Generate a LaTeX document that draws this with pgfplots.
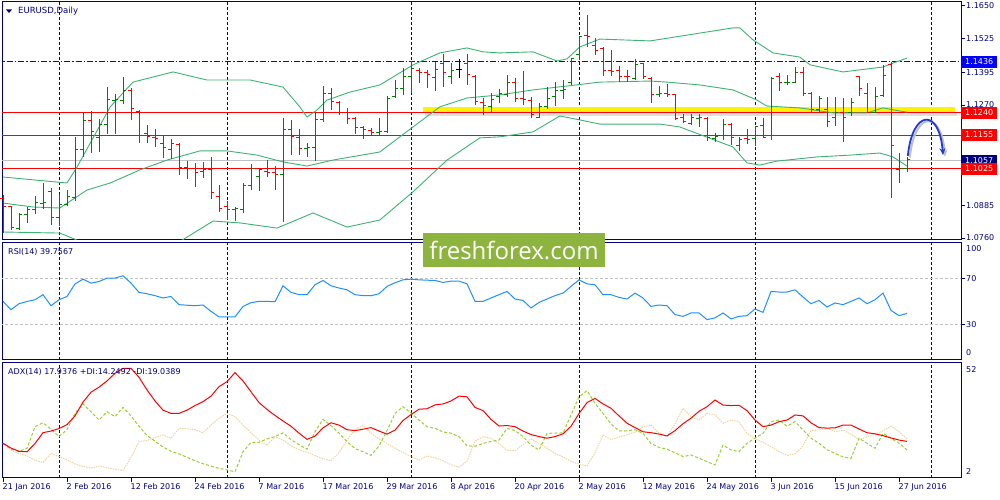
\documentclass[border=0pt]{standalone}
\usepackage{fontspec}
\setmainfont{DejaVu Sans}
\newfontfamily\wmfont{Open Sans}
\usepackage{pgfplots}
\usepackage{pgfplotstable}
\pgfplotsset{compat=1.18}
\usetikzlibrary{arrows.meta}

\definecolor{mtnavy}{RGB}{0,0,128}
\definecolor{barup}{RGB}{0,128,0}
\definecolor{bardn}{RGB}{255,0,0}
\definecolor{bband}{RGB}{60,179,113}
\definecolor{rsiblue}{RGB}{30,144,255}
\definecolor{diplus}{RGB}{154,205,50}
\definecolor{diminus}{RGB}{240,212,160}
\definecolor{wmgreen}{RGB}{141,180,62}
\definecolor{arrowblue}{RGB}{30,60,210}
\definecolor{lvlgray}{RGB}{192,192,192}

\newcommand\lbl{\fontsize{8bp}{9bp}\selectfont}

% open tick to the left, close tick to the right
\pgfdeclareplotmark{otick}{\pgfpathmoveto{\pgfpoint{-3bp}{0pt}}\pgfpathlineto{\pgfpoint{0pt}{0pt}}\pgfusepathqstroke}
\pgfdeclareplotmark{ctick}{\pgfpathmoveto{\pgfpoint{0pt}{0pt}}\pgfpathlineto{\pgfpoint{3bp}{0pt}}\pgfusepathqstroke}

\pgfplotsset{
  mtpanel/.style={
    scale only axis, anchor=south west, width=959bp,
    xmin=-0.125, xmax=119.75,
    axis line style={mtnavy, line width=1bp},
    xtick=\empty,
    extra x ticks={7,28,51,72,94,116}, extra x tick labels={},
    extra x tick style={grid=major, major tick length=0pt},
    major grid style={mtnavy, line width=1bp, dash pattern=on 3bp off 2bp},
    ytick pos=right, yticklabel pos=right, tick align=outside, major tick length=4bp,
    tick style={mtnavy, line width=1bp},
    yticklabel style={font=\lbl, text=mtnavy, inner sep=1bp},
    xticklabel style={font=\lbl, text=mtnavy, inner sep=1bp},
  },
  hline/.style={line width=1bp, forget plot},
  bar/.style={only marks, mark=otick, color=#1,
    mark options={solid, line width=1bp, color=#1},
    error bars/y dir=both, error bars/y explicit, error bars/error mark=none,
    error bars/error bar style={line width=1bp, color=#1}},
  cls/.style={only marks, mark=ctick, color=#1, mark options={solid, line width=1bp, color=#1}},
}

% daily bars: index, open, high, low, close
\pgfplotstableread{
i o h l c
0 1.0913 1.0925 1.0779 1.0879
1 1.0879 1.0883 1.0791 1.0802
2 1.0795 1.0856 1.0791 1.0852
3 1.0852 1.0879 1.0818 1.0871
4 1.0871 1.0921 1.0852 1.0898
5 1.0894 1.0971 1.0871 1.0898
6 1.0937 1.0952 1.0810 1.0837
7 1.0837 1.0929 1.0806 1.0887
8 1.0887 1.0944 1.0883 1.0921
9 1.0917 1.1147 1.0902 1.1101
10 1.1101 1.1243 1.1071 1.1209
11 1.1209 1.1247 1.1086 1.1170
12 1.1144 1.1217 1.1090 1.1194
13 1.1194 1.1339 1.1159 1.1293
14 1.1289 1.1312 1.1159 1.1293
15 1.1289 1.1378 1.1274 1.1324
16 1.1324 1.1335 1.1213 1.1255
17 1.1247 1.1251 1.1124 1.1240
18 1.1159 1.1194 1.1124 1.1151
19 1.1144 1.1178 1.1109 1.1140
20 1.1124 1.1151 1.1067 1.1109
21 1.1098 1.1140 1.1063 1.1124
22 1.1117 1.1124 1.1002 1.1032
23 1.1032 1.1055 1.0986 1.1025
24 1.1025 1.1048 1.0956 1.1013
25 1.1017 1.1052 1.0990 1.1021
26 1.1021 1.1071 1.0910 1.0933
27 1.0921 1.0963 1.0860 1.0875
28 1.0879 1.0902 1.0829 1.0871
29 1.0871 1.0879 1.0825 1.0875
30 1.0871 1.0971 1.0856 1.0960
31 1.0960 1.1044 1.0944 1.1025
32 1.0994 1.1029 1.0940 1.1021
33 1.1017 1.1059 1.0994 1.1013
34 1.1013 1.1036 1.0944 1.1002
35 1.1002 1.1220 1.0821 1.1178
36 1.1178 1.1213 1.1078 1.1151
37 1.1147 1.1178 1.1078 1.1105
38 1.1105 1.1124 1.1071 1.1109
39 1.1109 1.1243 1.1055 1.1213
40 1.1213 1.1343 1.1205 1.1316
41 1.1316 1.1335 1.1251 1.1282
42 1.1278 1.1286 1.1232 1.1240
43 1.1240 1.1259 1.1197 1.1217
44 1.1217 1.1224 1.1159 1.1182
45 1.1182 1.1190 1.1140 1.1178
46 1.1174 1.1182 1.1155 1.1163
47 1.1163 1.1220 1.1151 1.1170
48 1.1170 1.1305 1.1163 1.1297
49 1.1301 1.1366 1.1297 1.1335
50 1.1335 1.1412 1.1309 1.1378
51 1.1378 1.1439 1.1316 1.1412
52 1.1401 1.1412 1.1355 1.1393
53 1.1393 1.1404 1.1335 1.1389
54 1.1374 1.1435 1.1324 1.1408
55 1.1431 1.1466 1.1339 1.1393
56 1.1378 1.1431 1.1351 1.1404
57 1.1408 1.1447 1.1374 1.1408
58 1.1431 1.1466 1.1347 1.1389
59 1.1381 1.1385 1.1270 1.1282
60 1.1278 1.1297 1.1232 1.1270
61 1.1266 1.1316 1.1243 1.1293
62 1.1301 1.1332 1.1278 1.1316
63 1.1312 1.1385 1.1301 1.1358
64 1.1358 1.1374 1.1282 1.1297
65 1.1297 1.1401 1.1270 1.1293
66 1.1289 1.1301 1.1220 1.1232
67 1.1224 1.1278 1.1220 1.1266
68 1.1266 1.1339 1.1255 1.1297
69 1.1301 1.1358 1.1266 1.1324
70 1.1324 1.1366 1.1293 1.1328
71 1.1355 1.1450 1.1347 1.1447
72 1.1462 1.1535 1.1443 1.1531
73 1.1535 1.1615 1.1493 1.1531
74 1.1497 1.1527 1.1462 1.1481
75 1.1485 1.1493 1.1381 1.1401
76 1.1401 1.1481 1.1381 1.1398
77 1.1401 1.1420 1.1358 1.1381
78 1.1381 1.1404 1.1358 1.1378
79 1.1370 1.1447 1.1366 1.1424
80 1.1428 1.1431 1.1370 1.1378
81 1.1370 1.1378 1.1278 1.1309
82 1.1309 1.1343 1.1301 1.1316
83 1.1316 1.1351 1.1301 1.1312
84 1.1309 1.1312 1.1213 1.1220
85 1.1224 1.1236 1.1201 1.1205
86 1.1201 1.1236 1.1194 1.1224
87 1.1220 1.1236 1.1186 1.1224
88 1.1220 1.1224 1.1132 1.1144
89 1.1140 1.1163 1.1128 1.1151
90 1.1155 1.1217 1.1136 1.1194
91 1.1194 1.1201 1.1117 1.1147
92 1.1113 1.1147 1.1094 1.1136
93 1.1140 1.1178 1.1121 1.1136
94 1.1140 1.1190 1.1113 1.1186
95 1.1190 1.1220 1.1144 1.1147
96 1.1155 1.1378 1.1136 1.1370
97 1.1378 1.1393 1.1324 1.1355
98 1.1355 1.1385 1.1347 1.1358
99 1.1358 1.1416 1.1355 1.1393
100 1.1393 1.1416 1.1305 1.1316
101 1.1316 1.1320 1.1243 1.1251
102 1.1251 1.1305 1.1240 1.1297
103 1.1251 1.1301 1.1186 1.1205
104 1.1224 1.1301 1.1190 1.1243
105 1.1243 1.1297 1.1128 1.1224
106 1.1240 1.1297 1.1228 1.1278
107 1.1378 1.1381 1.1305 1.1335
108 1.1316 1.1355 1.1240 1.1243
109 1.1243 1.1339 1.1240 1.1301
110 1.1305 1.1424 1.1301 1.1385
111 1.1424 1.1436 1.0913 1.1113
112 1.1021 1.1086 1.0971 1.1025
113 1.1025 1.1071 1.1013 1.1060
}\bars

% Bollinger bands (20, 2)
\pgfplotstableread{
i p
0 1.0994
8 1.0971
9.25 1.1032
13.4 1.1263
16.25 1.1358
21.25 1.1397
25.5 1.1366
30.9 1.1366
35 1.1339
37.1 1.1263
38 1.1224
39.25 1.1251
40.5 1.1289
43.4 1.1320
47.1 1.1347
51.25 1.1424
54.6 1.1470
58 1.1489
60 1.1474
62.1 1.1470
66.25 1.1474
69.25 1.1439
70.5 1.1447
72.1 1.1493
74.6 1.1523
80.9 1.1516
87.1 1.1546
91.25 1.1566
92.1 1.1566
93.75 1.1520
96.25 1.1470
99.6 1.1454
100.9 1.1424
105 1.1397
110 1.1416
111.25 1.1431
113 1.1450
}\bbup
\pgfplotstableread{
i p
0 1.0894
3.75 1.0879
7.1 1.0875
10.5 1.0944
13.4 1.0971
17.1 1.1021
20.5 1.1059
24.6 1.1094
28 1.1094
31.75 1.1078
35 1.1052
38 1.1036
41.25 1.1059
47.1 1.1090
51.25 1.1186
54.6 1.1263
58 1.1297
62.1 1.1309
66.25 1.1328
70.5 1.1343
74.6 1.1358
80.9 1.1362
83 1.1358
87.1 1.1347
91.25 1.1328
94.25 1.1289
95.5 1.1266
99.6 1.1259
103.75 1.1240
108 1.1240
110 1.1259
112.1 1.1247
113 1.1243
}\bbmid
\pgfplotstableread{
i p
0 1.0783
7.1 1.0779
9.25 1.0752
12.1 1.0695
17.1 1.0683
22.4 1.0752
26.25 1.0825
29.6 1.0818
34.25 1.0798
38.75 1.0856
43 1.0802
47.1 1.0829
51.25 1.0937
55.5 1.1059
59.6 1.1144
62.1 1.1148
66.25 1.1167
69.6 1.1228
72.1 1.1213
74.6 1.1197
82.1 1.1197
84.6 1.1186
91.25 1.1109
93 1.1048
94.6 1.1040
96.75 1.1055
101.75 1.1071
105.9 1.1078
109.6 1.1086
111.25 1.1071
113 1.1036
}\bblow

% RSI(14), ADX(14), +DI, -DI
\pgfplotstableread{
i rsi adx dip dim
0 50.1 17.1 17.0 17.1
1 43.0 15.0 14.5 14.2
2 48.1 13.6 13.6 12.6
3 50.0 13.4 14.9 11.6
4 51.5 17.0 24.3 9.7
5 55.8 21.7 26.0 8.7
6 46.4 22.4 23.2 12.7
7 51.5 23.5 20.0 11.3
8 54.3 25.2 23.0 10.0
9 65.0 29.0 30.1 8.1
10 69.1 35.0 34.2 7.0
11 65.7 39.3 30.8 6.3
12 67.1 41.5 27.2 7.2
13 70.0 44.2 30.8 6.5
14 70.0 47.5 28.7 5.8
15 72.0 49.7 32.7 5.2
16 65.7 49.7 29.0 11.0
17 57.8 45.8 24.5 17.8
18 56.6 40.3 20.5 18.3
19 55.0 35.5 18.0 19.6
20 53.0 31.5 15.5 20.7
21 54.3 30.1 13.6 19.3
22 47.3 30.1 12.5 23.6
23 46.8 31.5 11.0 23.4
24 46.4 33.5 9.5 23.0
25 47.0 35.2 8.2 21.7
26 41.6 37.6 7.2 25.0
27 36.8 41.7 6.2 28.0
28 36.8 43.9 5.5 30.1
29 36.8 47.8 4.7 28.7
30 45.8 44.2 13.4 25.0
31 49.0 39.5 17.5 21.7
32 50.1 34.8 17.5 18.5
33 50.1 31.8 19.0 16.3
34 49.8 29.2 20.0 20.0
35 63.4 26.8 21.6 18.5
36 57.8 24.5 18.7 16.0
37 55.8 21.5 16.5 14.2
38 55.8 18.8 14.5 13.2
39 64.3 20.2 22.1 11.7
40 68.0 23.8 27.5 10.4
41 63.4 26.0 24.8 9.5
42 61.5 25.0 21.5 13.0
43 60.0 23.0 17.8 18.5
44 55.8 22.6 14.8 23.0
45 55.0 23.2 13.4 25.0
46 54.9 23.9 11.8 21.4
47 56.6 22.4 15.9 19.0
48 62.9 21.1 22.6 17.0
49 66.0 22.8 30.1 15.0
50 68.5 27.0 33.0 13.0
51 69.1 29.6 30.3 11.4
52 68.5 31.9 27.2 9.8
53 68.2 32.1 24.3 11.5
54 68.0 33.8 23.6 10.8
55 66.3 34.2 22.0 9.5
56 67.4 35.5 21.5 7.8
57 67.4 37.6 20.0 6.7
58 65.1 37.3 16.0 9.3
59 50.1 32.7 15.8 18.0
60 50.1 31.3 17.0 20.0
61 53.0 27.5 17.9 19.3
62 55.8 24.6 18.5 17.0
63 58.6 24.8 23.6 14.0
64 52.1 24.3 22.6 13.9
65 50.9 22.4 20.0 16.5
66 44.5 20.9 16.3 19.0
67 49.2 20.0 14.2 17.0
68 52.1 19.3 21.4 14.9
69 55.0 20.0 21.5 12.7
70 57.2 21.2 21.6 11.2
71 62.9 24.5 29.4 9.3
72 68.5 30.0 37.3 8.0
73 65.1 34.8 40.0 7.2
74 64.3 36.6 34.5 13.0
75 55.8 34.2 30.1 20.7
76 55.8 32.3 25.5 18.7
77 53.5 29.0 22.5 19.8
78 52.1 25.8 22.5 20.8
79 57.2 23.9 23.0 21.8
80 53.0 22.1 21.4 24.3
81 45.8 21.7 17.0 25.0
82 47.0 21.1 15.3 21.5
83 46.4 20.3 14.5 20.0
84 38.8 22.6 13.0 25.5
85 37.3 25.6 11.3 32.3
86 40.2 28.0 12.0 28.7
87 40.2 31.0 10.6 27.2
88 34.5 33.0 9.1 30.1
89 36.0 35.9 7.7 29.6
90 40.2 33.7 16.3 25.8
91 35.1 33.5 14.2 27.2
92 37.3 33.6 13.5 26.5
93 37.9 31.3 17.1 21.4
94 43.6 27.2 19.3 19.0
95 40.7 24.3 21.4 17.5
96 58.6 25.0 26.5 15.6
97 58.1 26.5 27.2 13.5
98 58.1 27.2 24.5 11.8
99 60.0 29.4 26.5 12.5
100 53.8 29.0 22.9 16.0
101 48.1 26.0 19.3 22.6
102 50.9 23.9 17.1 22.9
103 45.3 23.7 14.3 23.6
104 48.7 23.8 12.7 22.1
105 47.3 25.0 11.2 22.8
106 50.1 25.0 10.5 21.0
107 53.0 23.3 19.3 18.6
108 48.1 21.7 17.1 19.9
109 51.5 21.2 14.9 21.0
110 57.2 20.4 21.4 22.5
111 42.4 19.4 19.3 24.6
112 37.9 18.5 17.1 22.1
113 39.8 17.9 14.2 19.0
}\ind

\begin{document}
\begin{tikzpicture}[x=1bp, y=1bp]
\useasboundingbox (0,0) rectangle (1000,500);

% ---------------- price panel ----------------
\begin{axis}[mtpanel, name=price, at={(2bp,260bp)}, height=238bp,
  ymin=1.07524, ymax=1.16653,
  ytick={1.0760,1.0885,1.1015,1.1140,1.1270,1.1395,1.1525,1.1650},
  yticklabels={1.0760,1.0885,1.1015,1.1140,1.1270,1.1395,1.1525,1.1650}]
  % highlighted zone with a soft shadow
  \fill[black!12] (axis cs:52.7,1.1229) rectangle (axis cs:119.2,1.1241);
  \fill[yellow] (axis cs:52.5,1.1240) rectangle (axis cs:119,1.1264);
  \addplot[hline, color=lvlgray] coordinates {(-1,1.1057) (121,1.1057)};
  \addplot[hline, color=red] coordinates {(-1,1.1240) (121,1.1240)};
  \addplot[hline, color=red] coordinates {(-1,1.1155) (121,1.1155)};
  \addplot[hline, color=red] coordinates {(-1,1.1025) (121,1.1025)};
  \addplot[hline, color=blue, dash pattern=on 6bp off 2bp on 1.5bp off 2bp] coordinates {(-1,1.1436) (121,1.1436)};
  % Bollinger bands
  \addplot[bband, line width=0.9bp] table[x=i, y=p] {\bbup};
  \addplot[bband, line width=0.9bp] table[x=i, y=p] {\bbmid};
  \addplot[bband, line width=0.9bp] table[x=i, y=p] {\bblow};
  % bars
  \addplot[bar=barup, restrict expr to domain={\thisrow{c}-\thisrow{o}}{0.00001:1}]
    table[x=i, y=o, y error plus expr=\thisrow{h}-\thisrow{o}, y error minus expr=\thisrow{o}-\thisrow{l}] {\bars};
  \addplot[cls=barup, restrict expr to domain={\thisrow{c}-\thisrow{o}}{0.00001:1}]
    table[x=i, y=c] {\bars};
  \addplot[bar=bardn, restrict expr to domain={\thisrow{c}-\thisrow{o}}{-1:-0.00001}]
    table[x=i, y=o, y error plus expr=\thisrow{h}-\thisrow{o}, y error minus expr=\thisrow{o}-\thisrow{l}] {\bars};
  \addplot[cls=bardn, restrict expr to domain={\thisrow{c}-\thisrow{o}}{-1:-0.00001}]
    table[x=i, y=c] {\bars};
  \addplot[bar=black, restrict expr to domain={\thisrow{c}-\thisrow{o}}{-0.000005:0.000005}]
    table[x=i, y=o, y error plus expr=\thisrow{h}-\thisrow{o}, y error minus expr=\thisrow{o}-\thisrow{l}] {\bars};
  \addplot[cls=black, restrict expr to domain={\thisrow{c}-\thisrow{o}}{-0.000005:0.000005}]
    table[x=i, y=c] {\bars};
  % hand-drawn forecast arrow
  \draw[black!25, line width=2bp, -{Stealth[length=7bp,width=6bp]}]
    (axis cs:113.35,1.1069) .. controls (axis cs:113.95,1.1250) and (axis cs:117.3,1.1252) .. (axis cs:117.75,1.1072);
  \draw[arrowblue, line width=1.8bp, -{Stealth[length=7bp,width=6bp]}]
    (axis cs:113.1,1.1075) .. controls (axis cs:113.7,1.1256) and (axis cs:117.05,1.1258) .. (axis cs:117.5,1.1078);
  \coordinate (p1436) at (axis cs:119.75,1.1436);
  \coordinate (p1240) at (axis cs:119.75,1.1240);
  \coordinate (p1155) at (axis cs:119.75,1.1155);
  \coordinate (p1057) at (axis cs:119.75,1.1057);
  \coordinate (p1025) at (axis cs:119.75,1.1025);
\end{axis}

% ---------------- RSI panel ----------------
\begin{axis}[mtpanel, name=rsi, at={(2bp,140bp)}, height=117bp,
  ymin=0, ymax=100, ytick={30,70}, yticklabels={30,70}]
  \addplot[hline, color=lvlgray, dash pattern=on 3bp off 2bp] coordinates {(-1,70) (121,70)};
  \addplot[hline, color=lvlgray, dash pattern=on 3bp off 2bp] coordinates {(-1,30) (121,30)};
  \addplot[rsiblue, line width=1bp] table[x=i, y=rsi] {\ind};
\end{axis}

% ---------------- ADX panel ----------------
\begin{axis}[mtpanel, name=adx, at={(2bp,22bp)}, height=115bp,
  ymin=2, ymax=52, ytick=\empty,
  xtick={0,8,...,112}, xtick pos=bottom,
  xticklabels={21 Jan 2016, 2 Feb 2016, 12 Feb 2016, 24 Feb 2016, 7 Mar 2016, 17 Mar 2016, 29 Mar 2016, 8 Apr 2016, 20 Apr 2016, 2 May 2016, 12 May 2016, 24 May 2016, 3 Jun 2016, 15 Jun 2016, 27 Jun 2016},
  xticklabel style={anchor=north west, xshift=-1.5bp}]
  \addplot[diminus, line width=1bp, dash pattern=on 1.5bp off 1bp] table[x=i, y=dim] {\ind};
  \addplot[diplus, line width=1bp, dash pattern=on 3bp off 2bp] table[x=i, y=dip] {\ind};
  \addplot[red, line width=1bp] table[x=i, y=adx] {\ind};
\end{axis}

% ---------------- labels ----------------
\tikzset{pbox/.style={anchor=west, font=\lbl, text=white, inner sep=0pt, minimum width=36bp, minimum height=11.5bp}}
\node[pbox, fill=blue] at (p1436) {1.1436};
\node[pbox, fill=red] at (p1240) {1.1240};
\node[pbox, fill=red] at (p1155) {1.1155};
\node[pbox, fill=mtnavy] at (p1057) {1.1057};
\node[pbox, fill=red] at (p1025) {1.1025};

\fill[mtnavy] (6,490.5) -- (12,490.5) -- (9,487) -- cycle;
\node[anchor=west, font=\fontsize{8.5bp}{9bp}\selectfont, text=mtnavy, inner sep=0pt] at (18,489) {EURUSD,Daily};
\node[anchor=west, font=\lbl, text=mtnavy, inner sep=0pt] at (8,248) {RSI(14) 39.7567};
\node[anchor=west, font=\lbl, text=mtnavy, inner sep=0pt] at (8,128) {ADX(14) 17.9376 +DI:14.2492 -DI:19.0389};
\node[anchor=west, font=\lbl, text=mtnavy, inner sep=0pt] at (966,251) {100};
\node[anchor=west, font=\lbl, text=mtnavy, inner sep=0pt] at (966,147) {0};
\node[anchor=west, font=\lbl, text=mtnavy, inner sep=0pt] at (966,130) {52};
\node[anchor=west, font=\lbl, text=mtnavy, inner sep=0pt] at (966,28) {2};

\node[fill=wmgreen, text=white, inner sep=0pt, minimum width=182bp, minimum height=34bp,
  font=\wmfont\fontsize{24bp}{24bp}\selectfont] at (514,250) {freshforex.com};
\end{tikzpicture}
\end{document}
